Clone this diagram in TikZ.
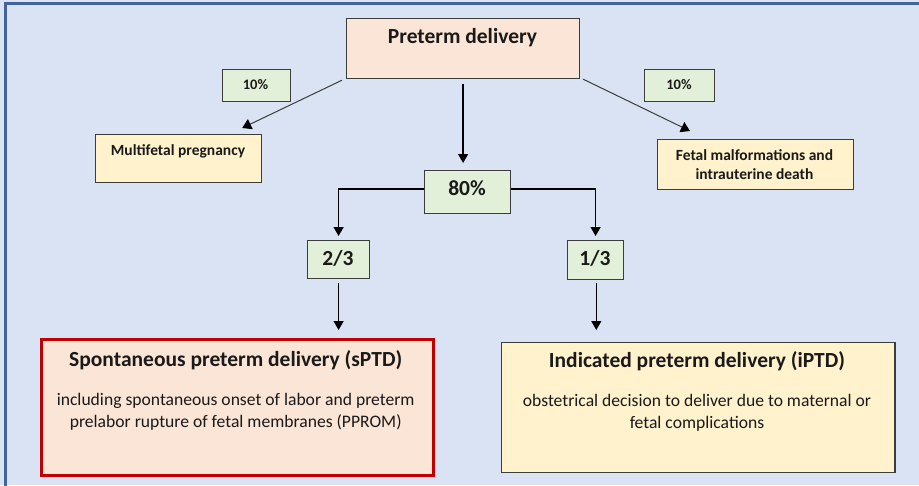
\documentclass[tikz,border=0pt]{standalone}
\usepackage{fontspec}
\setmainfont{Carlito}
\usetikzlibrary{arrows.meta,calc}
\definecolor{bg}{HTML}{DAE3F3}
\definecolor{framec}{HTML}{41639E}
\definecolor{peach}{HTML}{FBE5D6}
\definecolor{lgreen}{HTML}{E2F0D9}
\definecolor{lyellow}{HTML}{FFF2CC}
\definecolor{dred}{HTML}{C00000}
\definecolor{edgec}{HTML}{3C3C3C}
\definecolor{ink}{HTML}{1A1A1A}
\begin{document}
\begin{tikzpicture}[x=1pt,y=-1pt,
  box/.style={draw=edgec,line width=1.2pt,inner sep=0pt,anchor=north west},
  txt/.style={anchor=base,inner sep=0pt,text=ink},
  conn/.style={draw=black,line width=1.3pt,-{Triangle[width=10pt,length=9pt]}},
  diag/.style={draw=edgec,line width=1pt,-{Triangle[width=11pt,length=9pt,color=black]}},
  bigb/.style={font=\fontsize{21.5}{24}\selectfont\bfseries},
  body/.style={font=\fontsize{17.6}{20}\selectfont},
  smallb/.style={font=\fontsize{15.5}{18}\selectfont\bfseries},
  tinyb/.style={font=\fontsize{14.5}{16}\selectfont\bfseries}
]
\useasboundingbox (0,0) rectangle (919,485);
\clip (0,0) rectangle (919,485);
\fill[bg] (0,0) rectangle (919,485);
\draw[framec,line width=3pt] (5.5,3.5) rectangle (940,500);

% boxes
\node[box,fill=peach,minimum width=233pt,minimum height=60pt] (pd) at (346,17.5) {};
\node[box,fill=lgreen,minimum width=68pt,minimum height=32pt] (ten1) at (221.5,69) {};
\node[box,fill=lgreen,minimum width=70pt,minimum height=32pt] (ten2) at (644,69) {};
\node[box,fill=lyellow,minimum width=166pt,minimum height=47.5pt] (mf) at (95,134) {};
\node[box,fill=lyellow,minimum width=196pt,minimum height=50.5pt] (fm) at (656.5,138.5) {};
\node[box,fill=lgreen,minimum width=86pt,minimum height=42.5pt] (p80) at (424,170) {};
\node[box,fill=lgreen,minimum width=62pt,minimum height=38.5pt] (p23) at (307,239.5) {};
\node[box,fill=lgreen,minimum width=56pt,minimum height=39pt] (p13) at (567,240) {};
\node[box,draw=dred,line width=3.3pt,fill=peach,minimum width=391.7pt,minimum height=136pt] (sptd) at (39.8,338) {};
\node[box,fill=lyellow,minimum width=393.3pt,minimum height=130.5pt] (iptd) at (501,341.5) {};

% texts
\node[txt,bigb] (tpd) at (462.5,43.3) {Preterm delivery};
\node[txt,tinyb] (t10a) at (255.5,89.3) {10\%};
\node[txt,tinyb] (t10b) at (679,89.3) {10\%};
\node[txt,smallb] (tmf) at (178,155) {Multifetal pregnancy};
\node[txt,smallb] (tfm1) at (754.5,160) {Fetal malformations and};
\node[txt,smallb] (tfm2) at (754.5,179.3) {intrauterine death};
\node[txt,bigb] (t80) at (467,195) {80\%};
\node[txt,bigb] (t23) at (338,265) {2/3};
\node[txt,bigb] (t13) at (595,265) {1/3};
\node[txt,bigb] (tsp) at (235.7,366.7) {Spontaneous preterm delivery (sPTD)};
\node[txt,body] (tsp1) at (235.7,405) {including spontaneous onset of labor and preterm};
\node[txt,body] (tsp2) at (235.7,427.7) {prelabor rupture of fetal membranes (PPROM)};
\node[txt,bigb] (tip) at (697,367.7) {Indicated preterm delivery (iPTD)};
\node[txt,body] (tip1) at (697,406) {obstetrical decision to deliver due to maternal or};
\node[txt,body] (tip2) at (697,428) {fetal complications};

% connectors
\draw[diag] ($(pd.south west)+(-4,1.5)$) -- ($(mf.north east)+(-20,-6)$);
\draw[diag] ($(pd.south east)+(3,0.5)$) -- ($(fm.north west)+(33.5,-7.5)$);
\draw[conn] ($(pd.south)+(0,5.5)$) -- ($(pd.south |- p80.north)+(0,-7)$);
\draw[conn] ($(p80.west)+(0,-3)$) -| ($(p23.north)+(0,-3.5)$);
\draw[conn] ($(p80.east)+(0,-3)$) -| ($(p13.north)+(0,-4)$);
\draw[conn] ($(p23.south)+(0,4)$) -- ($(p23.south |- sptd.north)+(0,-8)$);
\draw[conn] ($(p13.south)+(0.7,3)$) -- ($(p13.south |- iptd.north)+(0.7,-11.5)$);
\end{tikzpicture}
\end{document}
